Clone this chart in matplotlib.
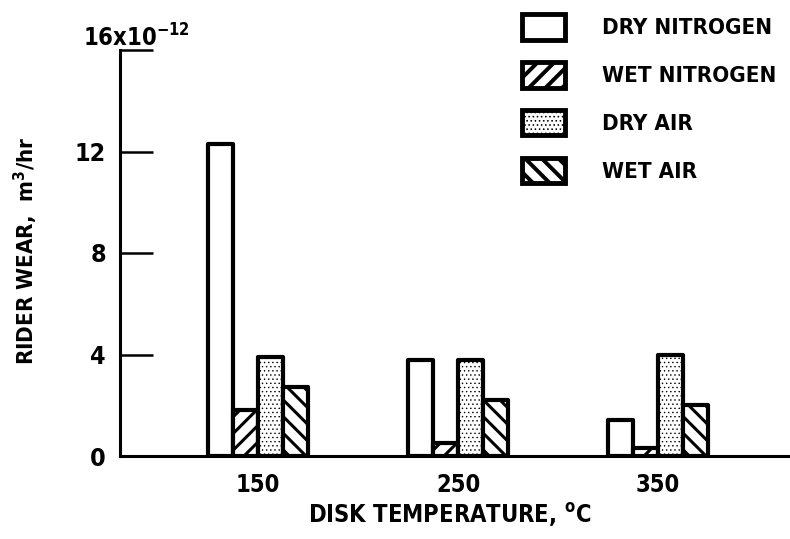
import matplotlib.pyplot as plt
from matplotlib import font_manager
import numpy as np

# rider wear (x 1e-12 m^3/hr) against disk temperature, four atmospheres
temps = [150, 250, 350]
dry_nitrogen = [12.3, 3.8, 1.4]
wet_nitrogen = [1.8, 0.5, 0.3]
dry_air = [3.9, 3.8, 4.0]
wet_air = [2.7, 2.2, 2.0]

series = [
    ("DRY NITROGEN", dry_nitrogen, ""),
    ("WET NITROGEN", wet_nitrogen, "//"),
    ("DRY AIR", dry_air, "...."),
    ("WET AIR", wet_air, "\\\\"),
]

# narrow bold lettering, falling back to condensed DejaVu
names = {f.name for f in font_manager.fontManager.ttflist}
if "Liberation Sans Narrow" in names:
    plt.rcParams["font.family"] = ["Liberation Sans Narrow", "DejaVu Sans"]
    stretch = "normal"
else:
    plt.rcParams["font.family"] = ["DejaVu Sans"]
    stretch = "condensed"
plt.rcParams["font.weight"] = "bold"
plt.rcParams["font.stretch"] = stretch
plt.rcParams["mathtext.default"] = "regular"


def hatch_lw(hatch):
    return 0.5 if hatch == "...." else 2.2


W, H = 790, 539
fig = plt.figure(figsize=(W / 100, H / 100), dpi=100)
ax = fig.add_axes([120 / W, 1 - 456 / H, 1 - 120 / W, (456 - 50) / H])

width = 12.5
offsets = [-1.5, -0.5, 0.5, 1.5]
x = np.array(temps, dtype=float)
for (label, vals, hatch), off in zip(series, offsets):
    hlw = hatch_lw(hatch)
    with plt.rc_context({"hatch.linewidth": hlw}):
        bars = ax.bar(x + off * width, vals, width, color="white", edgecolor="black",
                      linewidth=3, hatch=hatch, label=label, joinstyle="round")
    for b in bars:
        if hasattr(b, "set_hatch_linewidth"):
            b.set_hatch_linewidth(hlw)

ax.set_xlim(81, 416)
ax.set_ylim(0, 16)

for s in ["top", "right"]:
    ax.spines[s].set_visible(False)
for s in ["left", "bottom"]:
    ax.spines[s].set_linewidth(2.2)

ax.set_yticks([0, 4, 8, 12, 16])
ax.set_yticklabels(["0", "4", "8", "12", ""])
ax.tick_params(axis="y", direction="in", length=24, width=1.8, pad=10, labelsize=18)
ax.set_xticks(temps)
ax.set_xticklabels([str(t) for t in temps])
ax.tick_params(axis="x", length=0, pad=12, labelsize=17)

fig.text(83 / W, 1 - 47 / H, r"16x10$^{-12}$", fontsize=17, ha="left", va="baseline")
fig.text(450 / W, 1 - 523 / H, r"DISK TEMPERATURE, $^{o}$C", fontsize=17,
         ha="center", va="baseline")
fig.text(26 / W, 1 - 251 / H, r"RIDER WEAR,  m$^{3}$/hr", fontsize=16,
         rotation=90, ha="center", va="center")

leg = ax.legend(loc="upper left", bbox_to_anchor=(522 / W, 1 - 14 / H),
                bbox_transform=fig.transFigure, frameon=False, fontsize=16,
                handlelength=1.95, handleheight=1.4, labelspacing=1.0,
                handletextpad=1.65, borderpad=0, borderaxespad=0)
for h, (_, _, hatch) in zip(leg.legend_handles, series):
    h.set_linewidth(3.5)
    if hasattr(h, "set_hatch_linewidth"):
        h.set_hatch_linewidth(hatch_lw(hatch) * 1.3)

fig.savefig("out.png", dpi=100)
